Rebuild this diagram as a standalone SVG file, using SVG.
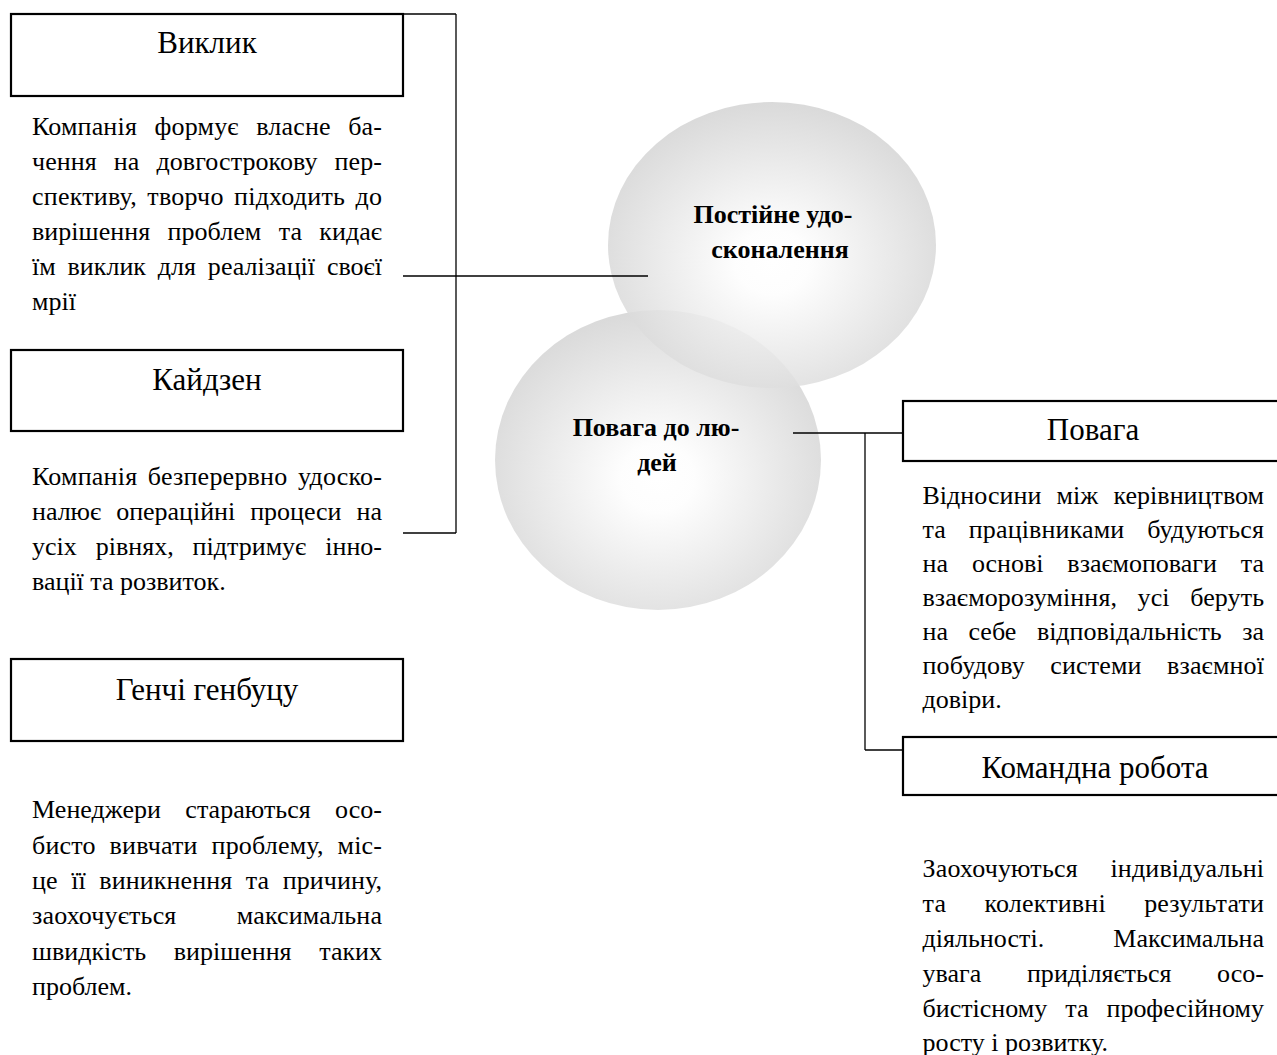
<svg xmlns="http://www.w3.org/2000/svg" width="1277" height="1055" viewBox="0 0 1277 1055">
<defs>
<radialGradient id="ball" cx="0.5" cy="0.56" r="0.56">
<stop offset="0" stop-color="#ffffff"/>
<stop offset="0.2" stop-color="#fdfdfd"/>
<stop offset="1" stop-color="#d3d3d3"/>
</radialGradient>
</defs>
<style>
text{font-family:"Liberation Serif","Times New Roman",serif;fill:#000}
.title{font-size:31px;text-anchor:middle}
.body{font-size:26px}
.bold{font-size:26px;font-weight:bold;text-anchor:middle}
.box{fill:#fff;stroke:#000;stroke-width:2.2}
.ball{fill:url(#ball);opacity:0.85}
.conn line{stroke:#000;stroke-width:1.3}
</style>
<rect width="1277" height="1055" fill="#fff"/>

<g id="circle-bottom">
<ellipse class="ball" cx="658" cy="460" rx="163" ry="150"/>
</g>
<g id="circle-top">
<ellipse class="ball" cx="772" cy="245" rx="164" ry="143"/>
</g>
<g id="circle-text">
<text class="bold" x="773" y="223">Постійне удо-</text>
<text class="bold" x="780" y="258">сконалення</text>
<text class="bold" x="656" y="436">Повага до лю-</text>
<text class="bold" x="657" y="471">дей</text>
</g>

<g class="conn" id="connectors">
<line x1="403" y1="14" x2="456" y2="14"/>
<line x1="456" y1="14" x2="456" y2="533"/>
<line x1="403" y1="533" x2="456" y2="533"/>
<line x1="403" y1="276" x2="648" y2="276"/>
<line x1="793" y1="433" x2="903" y2="433"/>
<line x1="865" y1="433" x2="865" y2="750"/>
<line x1="865" y1="750" x2="903" y2="750"/>
</g>

<g id="node-vyklyk">
<rect class="box" x="11" y="14" width="392" height="82"/>
<text class="title" x="207" y="53">Виклик</text>
<text class="body" x="32" y="135" textLength="350" lengthAdjust="spacing" word-spacing="10.8">Компанія формує власне ба-</text>
<text class="body" x="32" y="170" textLength="350" lengthAdjust="spacing" word-spacing="10.4">чення на довгострокову пер-</text>
<text class="body" x="32" y="205" textLength="350" lengthAdjust="spacing" word-spacing="3.7">спективу, творчо підходить до</text>
<text class="body" x="32" y="240" textLength="350" lengthAdjust="spacing" word-spacing="10.8">вирішення проблем та кидає</text>
<text class="body" x="32" y="275" textLength="350" lengthAdjust="spacing" word-spacing="5.3">їм виклик для реалізації своєї</text>
<text class="body" x="32" y="310">мрії</text>
</g>

<g id="node-kaizen">
<rect class="box" x="11" y="350" width="392" height="81"/>
<text class="title" x="207" y="390">Кайдзен</text>
<text class="body" x="32" y="485" textLength="350" lengthAdjust="spacing" word-spacing="3.7">Компанія безперервно удоско-</text>
<text class="body" x="32" y="520" textLength="350" lengthAdjust="spacing" word-spacing="8.6">налює операційні процеси на</text>
<text class="body" x="32" y="555" textLength="350" lengthAdjust="spacing" word-spacing="12.4">усіх рівнях, підтримує інно-</text>
<text class="body" x="32" y="590">вації та розвиток.</text>
</g>

<g id="node-genchi">
<rect class="box" x="11" y="659" width="392" height="82"/>
<text class="title" x="207" y="700">Генчі генбуцу</text>
<text class="body" x="32" y="818" textLength="350" lengthAdjust="spacing" word-spacing="17.7">Менеджери стараються осо-</text>
<text class="body" x="32" y="853.5" textLength="350" lengthAdjust="spacing" word-spacing="7.2">бисто вивчати проблему, міс-</text>
<text class="body" x="32" y="889" textLength="350" lengthAdjust="spacing" word-spacing="6.9">це її виникнення та причину,</text>
<text class="body" x="32" y="924" textLength="350" lengthAdjust="spacing" word-spacing="53.6">заохочується максимальна</text>
<text class="body" x="32" y="959.5" textLength="350" lengthAdjust="spacing" word-spacing="21.1">швидкість вирішення таких</text>
<text class="body" x="32" y="995">проблем.</text>
</g>

<g id="node-povaha">
<rect class="box" x="903" y="401" width="392" height="60"/>
<text class="title" x="1093" y="440">Повага</text>
<text class="body" x="922.5" y="504" textLength="341.5" lengthAdjust="spacing" word-spacing="8.7">Відносини між керівництвом</text>
<text class="body" x="922.5" y="538" textLength="341.5" lengthAdjust="spacing" word-spacing="16.1">та працівниками будуються</text>
<text class="body" x="922.5" y="572" textLength="341.5" lengthAdjust="spacing" word-spacing="17.5">на основі взаємоповаги та</text>
<text class="body" x="922.5" y="606" textLength="341.5" lengthAdjust="spacing" word-spacing="14">взаєморозуміння, усі беруть</text>
<text class="body" x="922.5" y="640" textLength="341.5" lengthAdjust="spacing" word-spacing="14.1">на себе відповідальність за</text>
<text class="body" x="922.5" y="674" textLength="341.5" lengthAdjust="spacing" word-spacing="18.7">побудову системи взаємної</text>
<text class="body" x="922.5" y="708">довіри.</text>
</g>

<g id="node-team">
<rect class="box" x="903" y="737" width="392" height="58"/>
<text class="title" x="1095" y="778">Командна робота</text>
<text class="body" x="922.5" y="877" textLength="341.5" lengthAdjust="spacing" word-spacing="25.9">Заохочуються індивідуальні</text>
<text class="body" x="922.5" y="912" textLength="341.5" lengthAdjust="spacing" word-spacing="31.6">та колективні результати</text>
<text class="body" x="922.5" y="947" textLength="341.5" lengthAdjust="spacing" word-spacing="62.7">діяльності. Максимальна</text>
<text class="body" x="922.5" y="982" textLength="341.5" lengthAdjust="spacing" word-spacing="39">увага приділяється осо-</text>
<text class="body" x="922.5" y="1017" textLength="341.5" lengthAdjust="spacing" word-spacing="11.5">бистісному та професійному</text>
<text class="body" x="922.5" y="1051">росту і розвитку.</text>
</g>
</svg>
